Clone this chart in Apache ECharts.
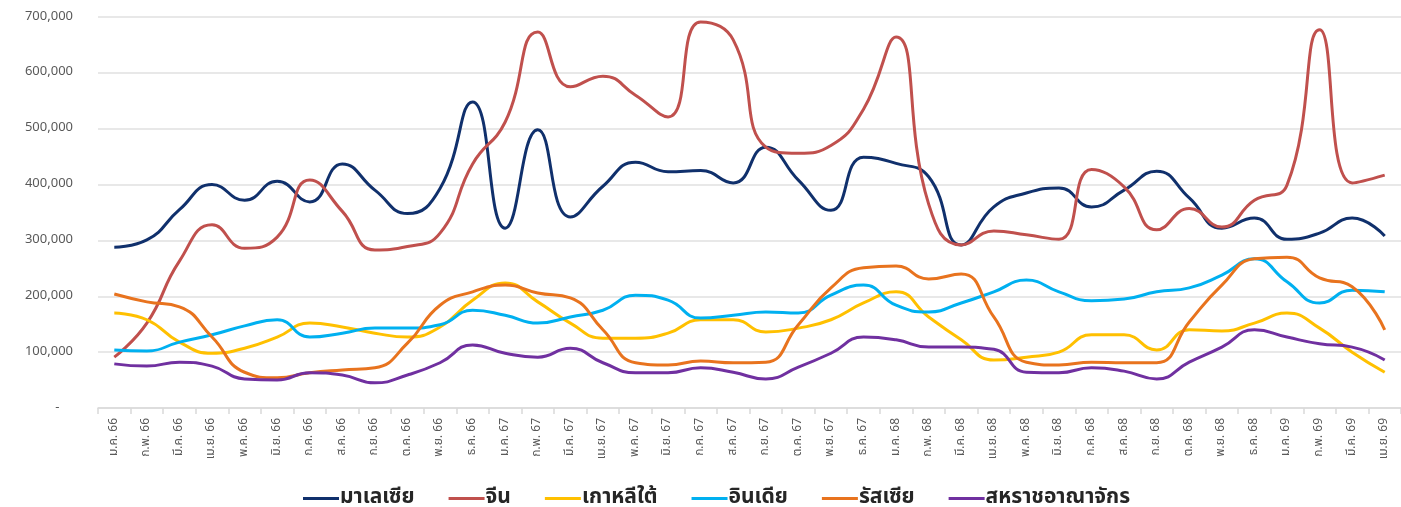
<!DOCTYPE html>
<html>
<head>
<meta charset="utf-8">
<script src="https://cdn.jsdelivr.net/npm/echarts@6/dist/echarts.min.js"></script>
<style>
html,body{margin:0;padding:0;background:#fff;}
#chart{width:1401px;height:507px;}
</style>
</head>
<body>
<div id="chart"></div>
<script>
const months = ['ม.ค.','ก.พ.','มี.ค.','เม.ย.','พ.ค.','มิ.ย.','ก.ค.','ส.ค.','ก.ย.','ต.ค.','พ.ย.','ธ.ค.'];
const years = ['66','67','68','69'];
const categories = [];
for (const y of years) for (const m of months) if (categories.length < 40) categories.push(m + ' ' + y);

const seriesNames = ['มาเลเซีย','จีน','เกาหลีใต้','อินเดีย','รัสเซีย','สหราชอาณาจักร'];

const malaysia = [288000,301000,355000,400000,372000,406000,369000,437000,390000,348000,393000,548000,
  322000,498000,342000,397000,440000,423000,425000,403000,467000,408000,354000,449000,
  438000,414000,292000,360000,385000,394000,360000,390000,424000,376000,322000,340000,
  302000,313000,340000,308000];
const china = [91000,152000,263000,328000,286000,306000,408000,352000,283000,289000,313000,437000,
  512000,673000,575000,594000,560000,521000,691000,659000,467000,456000,470000,535000,
  664000,365000,292000,317000,310000,302000,427000,396000,319000,357000,324000,372000,
  399000,677000,403000,417000];
const korea = [170000,158000,118000,98000,107000,127000,152000,145000,134000,127000,145000,193000,
  224000,190000,152000,125000,125000,134000,158000,158000,136000,143000,158000,188000,
  208000,163000,122000,86000,91000,100000,131000,131000,104000,140000,138000,152000,
  170000,143000,100000,64000];
const india = [104000,102000,118000,131000,147000,158000,127000,134000,143000,143000,149000,175000,
  166000,152000,163000,175000,202000,193000,161000,166000,172000,170000,202000,220000,
  184000,172000,188000,208000,229000,208000,192000,195000,208000,215000,238000,267000,
  226000,188000,211000,208000];
const russia = [204000,190000,181000,127000,64000,54000,63000,68000,72000,116000,184000,208000,
  220000,206000,197000,140000,81000,77000,84000,81000,82000,149000,215000,251000,
  254000,231000,240000,163000,82000,77000,82000,81000,81000,154000,220000,267000,
  270000,233000,217000,140000];
const uk = [79000,75000,82000,75000,52000,50000,63000,59000,45000,59000,81000,113000,
  98000,91000,107000,81000,63000,63000,72000,64000,52000,73000,98000,127000,
  122000,109000,109000,105000,64000,63000,72000,66000,52000,82000,109000,140000,
  127000,115000,109000,86000];

const yTicks = [0,100000,200000,300000,400000,500000,600000,700000];
const colors = ['#10306c','#c0504d','#ffc000','#00b0f0','#e8731e','#7030a0'];
const dataSets = [malaysia, china, korea, india, russia, uk];

const FONT = "'Noto Sans Thai','Noto Sans','Liberation Sans','DejaVu Sans',sans-serif";

const chart = echarts.init(document.getElementById('chart'), null, {renderer:'canvas'});
chart.setOption({
  animation: false,
  color: colors,
  grid: {left: 98, right: -9, top: 17, bottom: 99, containLabel: false},
  legend: {
    data: seriesNames,
    left: 298,
    top: 483,
    icon: 'rect',
    itemWidth: 36,
    itemHeight: 3,
    itemGap: 34,
    textStyle: {fontFamily: FONT, fontSize: 21, color: '#262626', fontWeight: 'bold', padding: [0,0,0,-4]}
  },
  xAxis: {
    type: 'category',
    data: categories,
    boundaryGap: true,
    axisLine: {show: true, lineStyle: {color: '#d9d9d9', width: 1.5}},
    axisTick: {show: true, alignWithLabel: false, length: 6, lineStyle: {color: '#d9d9d9', width: 1.5}},
    axisLabel: {rotate: 90, interval: 0, margin: 10, fontFamily: FONT, fontSize: 12, color: '#595959'},
    splitLine: {show: false}
  },
  yAxis: {
    type: 'value',
    min: yTicks[0],
    max: yTicks[yTicks.length-1],
    interval: yTicks[1]-yTicks[0],
    axisLine: {show: false},
    axisTick: {show: false},
    axisLabel: {
      margin: 25, fontFamily: FONT, fontSize: 13, color: '#595959',
      formatter: v => v === 0 ? '-    ' : v.toLocaleString('en-US')
    },
    splitLine: {show: true, lineStyle: {color: '#e0e0e0', width: 1.5}}
  },
  series: seriesNames.map((n, i) => ({
    name: n,
    type: 'line',
    data: dataSets[i],
    smooth: 0.5,
    symbol: 'none',
    lineStyle: {width: 3, color: colors[i]},
    itemStyle: {color: colors[i]}
  }))
});
</script>
</body>
</html>
